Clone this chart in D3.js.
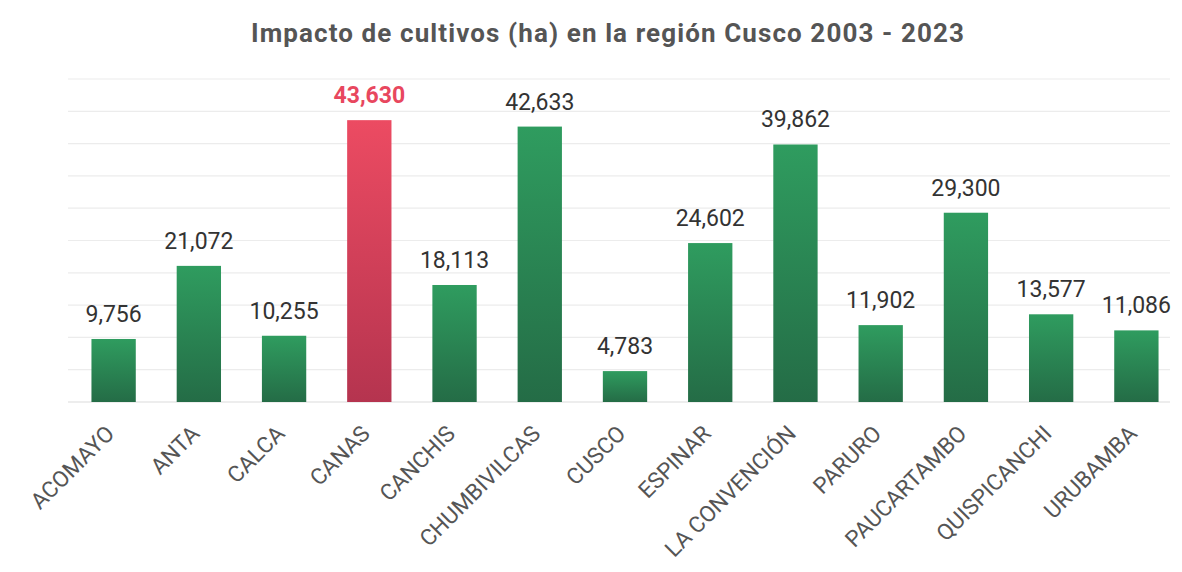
<!DOCTYPE html>
<html>
<head>
<meta charset="utf-8">
<script src="https://cdn.jsdelivr.net/npm/d3@7"></script>
<style>
  body { margin: 0; background: #fff; }
  text { font-family: Roboto, "Noto Sans", sans-serif; }
</style>
</head>
<body>
<script>
// Data
let provinces = ["ACOMAYO", "ANTA", "CALCA", "CANAS", "CANCHIS", "CHUMBIVILCAS", "CUSCO",
  "ESPINAR", "LA CONVENCIÓN", "PARURO", "PAUCARTAMBO", "QUISPICANCHI", "URUBAMBA"];
let hectares = [9756, 21072, 10255, 43630, 18113, 42633, 4783, 24602, 39862, 11902, 29300, 13577, 11086];
let highlight = "CANAS";
let gridTicks = [0, 5000, 10000, 15000, 20000, 25000, 30000, 35000, 40000, 45000, 50000];
let title = "Impacto de cultivos (ha) en la región Cusco 2003 - 2023";

let W = 1182, H = 572;
let plot = { left: 71, right: 1179, top: 79, bottom: 402 };

let svg = d3.select("body")
  .append("svg")
    .attr("width", W)
    .attr("height", H);

// gradients for the bars
let defs = svg.append("defs");
function addGradient(id, top, bottom) {
  let g = defs.append("linearGradient")
    .attr("id", id)
    .attr("x1", 0).attr("y1", 0).attr("x2", 0).attr("y2", 1);
  g.append("stop").attr("offset", "0%").attr("stop-color", top);
  g.append("stop").attr("offset", "100%").attr("stop-color", bottom);
}
addGradient("gGreen", "#2f9c5f", "#246c46");
addGradient("gRed", "#ec4b62", "#b5344f");

let x = d3.scaleBand()
  .domain(provinces)
  .range([plot.left, plot.right])
  .paddingInner(0.48)
  .paddingOuter(0.24);

let y = d3.scaleLinear()
  .domain([0, 50000])
  .range([plot.bottom, plot.top]);

// title
svg.append("text")
  .attr("x", 608)
  .attr("y", 42)
  .attr("text-anchor", "middle")
  .attr("font-size", 26)
  .attr("letter-spacing", 1.1)
  .attr("font-weight", "bold")
  .attr("fill", "#555")
  .text(title);

// gridlines
svg.append("g")
  .selectAll("line")
  .data(gridTicks)
  .enter().append("line")
    .attr("x1", 68)
    .attr("x2", 1170)
    .attr("y1", d => y(d))
    .attr("y2", d => y(d))
    .attr("stroke", d => d === 0 ? "#dcdcdc" : "#ececec")
    .attr("stroke-width", 1.2);

let data = provinces.map((p, i) => ({ name: p, value: hectares[i] }));

// bars
svg.append("g")
  .selectAll("rect")
  .data(data)
  .enter().append("rect")
    .attr("x", d => x(d.name))
    .attr("y", d => y(d.value))
    .attr("width", x.bandwidth())
    .attr("height", d => y(0) - y(d.value))
    .attr("fill", d => d.name === highlight ? "url(#gRed)" : "url(#gGreen)");

// value labels
let fmt = d3.format(",");
svg.append("g")
  .selectAll("text")
  .data(data)
  .enter().append("text")
    .attr("x", d => x(d.name) + x.bandwidth() / 2)
    .attr("y", d => y(d.value) - 17)
    .attr("text-anchor", "middle")
    .attr("font-size", 23)
    .attr("font-weight", d => d.name === highlight ? "bold" : "normal")
    .attr("fill", d => d.name === highlight ? "#e8475e" : "#333")
    .text(d => fmt(d.value));

// category labels, rotated
svg.append("g")
  .selectAll("text")
  .data(provinces)
  .enter().append("text")
    .attr("transform", d => "translate(" + (x(d) + x.bandwidth() / 2 + 2) + "," + (plot.bottom + 33) + ") rotate(-45)")
    .attr("text-anchor", "end")
    .attr("font-size", 22.5)
    .attr("fill", "#555")
    .text(d => d);
</script>
</body>
</html>
